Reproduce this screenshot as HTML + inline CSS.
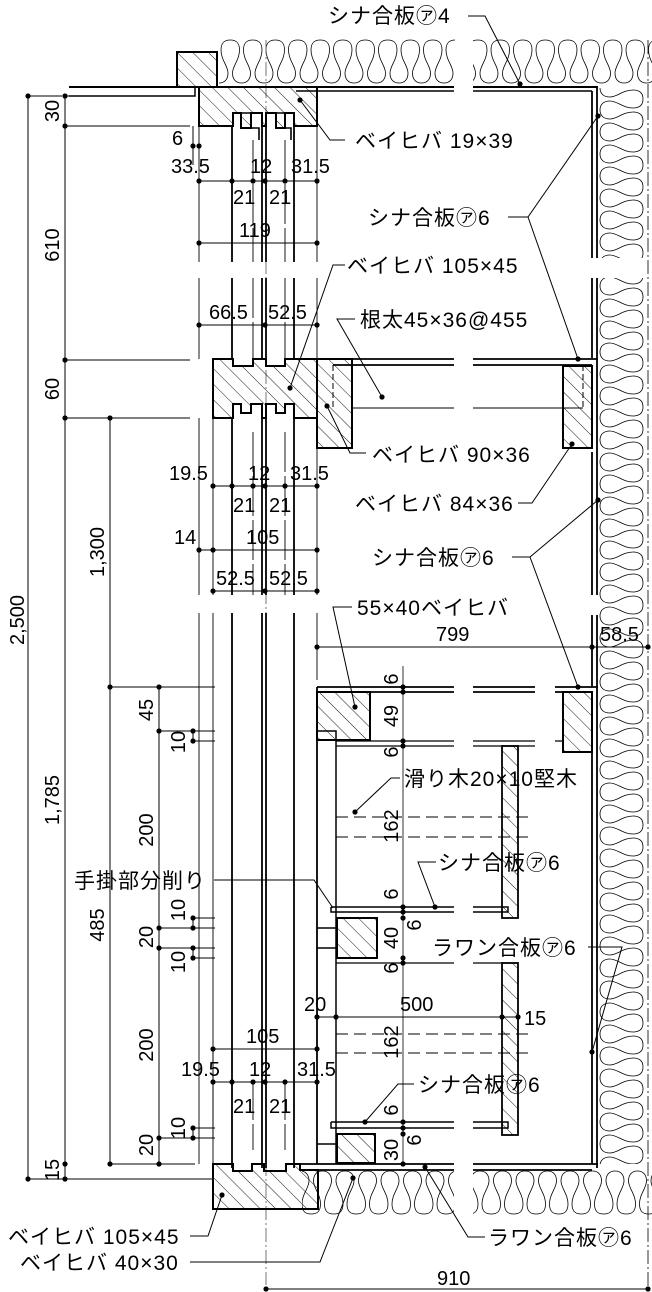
<!DOCTYPE html>
<html><head><meta charset="utf-8"><style>
html,body{margin:0;padding:0;background:#fff}
svg{display:block}
text{font-family:"Liberation Sans","Noto Sans CJK JP",sans-serif;fill:#000}
.l{font-size:21px;letter-spacing:1px}
.d{font-size:20px}
.r text{text-anchor:middle}
</style></head><body>
<svg width="652" height="1292" viewBox="0 0 652 1292" xmlns="http://www.w3.org/2000/svg">
<defs>
<pattern id="h" patternUnits="userSpaceOnUse" width="11" height="11" patternTransform="rotate(-45)">
<line x1="0" y1="0" x2="0" y2="11" stroke="#000" stroke-width="0.9"/>
</pattern>
<pattern id="iv" patternUnits="userSpaceOnUse" width="22.5" height="46" x="219" y="38">
<path d="M0 45 C6 45 9 41 9 35 C9 28 2 22 2 12 C2 4 6 2 11.25 2 C16.5 2 20.5 4 20.5 12 C20.5 22 13.5 28 13.5 35 C13.5 41 16.5 45 22.5 45" fill="none" stroke="#000" stroke-width="0.8"/>
</pattern>
<pattern id="ib" patternUnits="userSpaceOnUse" width="22.5" height="46" x="300" y="1170">
<path d="M0 1 C6 1 9 5 9 11 C9 18 2 24 2 34 C2 42 6 44 11.25 44 C16.5 44 20.5 42 20.5 34 C20.5 24 13.5 18 13.5 11 C13.5 5 16.5 1 22.5 1" fill="none" stroke="#000" stroke-width="0.8"/>
</pattern>
<pattern id="ir" patternUnits="userSpaceOnUse" width="46" height="22" x="599" y="88">
<path d="M1 0 C1 6 5 9 11 9 C18 9 24 2 34 2 C42 2 44 6 44 11 C44 16 42 20 34 20 C24 20 18 13 11 13 C5 13 1 16 1 22" fill="none" stroke="#000" stroke-width="0.8"/>
</pattern>
</defs>

<rect x="219" y="38" width="236" height="46" fill="url(#iv)"/>
<rect x="473" y="38" width="179" height="46" fill="url(#iv)"/>
<rect x="599" y="88" width="46" height="170" fill="url(#ir)"/>
<rect x="599" y="278" width="46" height="886" fill="url(#ir)"/>
<rect x="302" y="1170" width="152" height="46" fill="url(#ib)"/>
<rect x="473" y="1170" width="179" height="46" fill="url(#ib)"/>
<line x1="648" y1="40" x2="648" y2="1292" stroke="#000" stroke-width="0.8" stroke-dasharray="14 3 2 3"/>
<line x1="266" y1="40" x2="266" y2="1285" stroke="#555" stroke-width="0.8" stroke-dasharray="14 3 2 3"/>

<g fill="none" stroke="#000">
<path d="M69 87H195M200 87H454M473 87H598" stroke-width="2"/>
<path d="M296 91H454M473 91H592" stroke-width="1.5"/>
<path d="M195 87V96H69" stroke-width="1.5"/>
<path d="M592 91V258M597 87V258M592 278V358M597 278V595M592 366V440M592 452V595M592 615V687M597 615V1168" stroke-width="1.8"/>
<path d="M592 752V1164" stroke-width="1.8"/>
</g>

<rect x="177" y="52" width="40" height="35" fill="url(#h)" stroke="#000" stroke-width="2"/>
<path d="M199 87H317V126H294V113H285V128H276V113H266V126H262V113H251V128H241V113H233V126H199Z" fill="url(#h)" stroke="#000" stroke-width="2"/>
<path d="M233 113V126M241 113H251V128H259V140M266 113V126M274 113H285V128H291V140" fill="none" stroke="#000" stroke-width="1.6"/>

<g stroke="#000" fill="none">
<path d="M199 126V262M199 278V359M199 418V595M199 613V1164" stroke-width="0.9"/>
<path d="M213 418V595M213 613V1164" stroke-width="0.9"/>
<path d="M232 126V262M232 278V359M232 418V595M232 613V1168" stroke-width="1.8"/>
<path d="M262 126V262M262 278V359M262 418V595M262 613V1168" stroke-width="1.8"/>
<path d="M266 126V262M266 278V359M266 418V595M266 613V1168" stroke-width="1.8"/>
<path d="M294 126V262M294 278V359M294 418V595M294 613V1168" stroke-width="1.8"/>
<path d="M253 140V262M253 278V359M253 432V595M253 1080V1150" stroke-width="0.9" stroke-dasharray="40 4"/>
<path d="M285 140V262M285 278V359M285 432V595M285 1080V1150" stroke-width="0.9" stroke-dasharray="40 4"/>
<path d="M317 126V262M317 278V359M317 440V595M317 613V680" stroke-width="0.9"/>
</g>

<path d="M213 359H233V366H253V359H266V366H285V359H317V418H294V404H285V413H276V404H266V418H262V404H251V413H241V404H233V418H213Z" fill="url(#h)" stroke="#000" stroke-width="2"/>
<rect x="317" y="359" width="35" height="89" fill="url(#h)" stroke="#000" stroke-width="2"/>
<path d="M333 359H454M473 359H598M333 365H454M473 365H592" stroke="#000" stroke-width="1.8" fill="none"/>
<path d="M352 408H454M473 408H583" stroke="#000" stroke-width="1" fill="none"/>
<path d="M333 365V408M583 365V408" stroke="#000" stroke-width="1" stroke-dasharray="6 3" fill="none"/>
<rect x="563" y="366" width="29" height="82" fill="url(#h)" stroke="#000" stroke-width="2"/>

<g stroke="#000" fill="none">
<path d="M317 687V1164" stroke-width="1.8"/>
<path d="M317 731H336V1164" stroke-width="1.5"/>
<path d="M317 687H454M473 687H535M555 687H598M330 692H454M473 692H535M555 692H592" stroke-width="1.8"/>
<path d="M336 741H454M473 741H535M555 741H563M336 746H454M473 746H535" stroke-width="1.2"/>
<path d="M336 817H533M336 837H533M336 1034H533M336 1053H533" stroke-width="1" stroke-dasharray="12 6"/>
<path d="M331 907H454M473 907H508V912H473M454 912H331V907M331 1122H454M473 1122H508V1128H473M454 1128H331V1122" stroke-width="1.5"/>
<path d="M336 963H454M473 963H502" stroke-width="1.2"/>
<path d="M317 928H336M317 948H336M317 1144H336" stroke-width="1.5"/>
<path d="M300 1164H454M473 1164H598M300 1170H454M473 1170H592" stroke-width="1.8"/>
<path d="M403 666V1164" stroke-width="0.8"/>
</g>
<rect x="317" y="692" width="53" height="48" fill="url(#h)" stroke="#000" stroke-width="2"/>
<rect x="563" y="692" width="29" height="60" fill="url(#h)" stroke="#000" stroke-width="2"/>
<rect x="502" y="746" width="16" height="172" fill="url(#h)" stroke="#000" stroke-width="1.8"/>
<rect x="502" y="963" width="16" height="172" fill="url(#h)" stroke="#000" stroke-width="1.8"/>
<rect x="337" y="918" width="40" height="40" fill="url(#h)" stroke="#000" stroke-width="2"/>
<rect x="337" y="1134" width="38" height="29" fill="url(#h)" stroke="#000" stroke-width="2"/>

<path d="M213 1164H233V1171H252V1164H264V1171H286V1164H300V1170H318V1209H213Z" fill="url(#h)" stroke="#000" stroke-width="2"/>
<path d="M233 1164V1171M252 1164V1171M264 1164V1171M286 1164V1171" stroke="#000" stroke-width="1.5"/>

<g stroke="#000" stroke-width="1" fill="none">
<path d="M28 96V1179M65 96V1179M110 418V1164M159 687V1164"/>
<path d="M28 96H62M65 96H195M65 126H190M65 360H190M65 418H190M110 418H190M110 687H215M159 731H215M193 741H215M110 1164H195M28 1179H213"/>
<path d="M193 918H215M159 928H215M159 948H215M193 958H215M193 1128H215M159 1138H215"/>
<path d="M193 731V741M193 918V928M193 948V958M193 1128V1138"/>
<path d="M199 181H317M199 243H317M199 325H317M213 486H317M199 550H317M213 591H317M213 1049H317M213 1082H317M213 1049V1138"/>
<path d="M193 126V165M317 647H592M592 647H648M317 1017H518M266 1289H648"/>
</g>
<g fill="#000">
<circle cx="28" cy="96" r="2.6"/><circle cx="65" cy="96" r="2.6"/><circle cx="65" cy="126" r="2.6"/><circle cx="65" cy="360" r="2.6"/><circle cx="65" cy="418" r="2.6"/><circle cx="110" cy="418" r="2.6"/><circle cx="110" cy="687" r="2.6"/><circle cx="159" cy="687" r="2.6"/><circle cx="159" cy="731" r="2.6"/><circle cx="193" cy="731" r="2.6"/><circle cx="193" cy="741" r="2.6"/>
<circle cx="193" cy="918" r="2.6"/><circle cx="193" cy="928" r="2.6"/><circle cx="159" cy="928" r="2.6"/><circle cx="159" cy="948" r="2.6"/><circle cx="193" cy="948" r="2.6"/><circle cx="193" cy="958" r="2.6"/>
<circle cx="193" cy="1128" r="2.6"/><circle cx="193" cy="1138" r="2.6"/><circle cx="159" cy="1138" r="2.6"/><circle cx="159" cy="1164" r="2.6"/><circle cx="110" cy="1164" r="2.6"/><circle cx="65" cy="1164" r="2.6"/><circle cx="65" cy="1179" r="2.6"/><circle cx="28" cy="1179" r="2.6"/>
<circle cx="193" cy="146" r="2.6"/><circle cx="199" cy="146" r="2.6"/>
<circle cx="199" cy="181" r="2.6"/><circle cx="232" cy="181" r="2.6"/><circle cx="253" cy="181" r="2.6"/><circle cx="265" cy="181" r="2.6"/><circle cx="285" cy="181" r="2.6"/><circle cx="317" cy="181" r="2.6"/>
<circle cx="199" cy="243" r="2.6"/><circle cx="317" cy="243" r="2.6"/><circle cx="199" cy="325" r="2.6"/><circle cx="265" cy="325" r="2.6"/><circle cx="317" cy="325" r="2.6"/>
<circle cx="213" cy="486" r="2.6"/><circle cx="232" cy="486" r="2.6"/><circle cx="253" cy="486" r="2.6"/><circle cx="265" cy="486" r="2.6"/><circle cx="285" cy="486" r="2.6"/><circle cx="317" cy="486" r="2.6"/>
<circle cx="199" cy="550" r="2.6"/><circle cx="213" cy="550" r="2.6"/><circle cx="317" cy="550" r="2.6"/><circle cx="213" cy="591" r="2.6"/><circle cx="265" cy="591" r="2.6"/><circle cx="317" cy="591" r="2.6"/>
<circle cx="317" cy="647" r="2.6"/><circle cx="592" cy="647" r="2.6"/><circle cx="648" cy="647" r="2.6"/>
<circle cx="403" cy="687" r="2.6"/><circle cx="403" cy="692" r="2.6"/><circle cx="403" cy="741" r="2.6"/><circle cx="403" cy="746" r="2.6"/><circle cx="403" cy="907" r="2.6"/><circle cx="403" cy="912" r="2.6"/><circle cx="403" cy="918" r="2.6"/><circle cx="403" cy="958" r="2.6"/><circle cx="403" cy="963" r="2.6"/>
<circle cx="403" cy="1122" r="2.6"/><circle cx="403" cy="1128" r="2.6"/><circle cx="403" cy="1134" r="2.6"/><circle cx="403" cy="1164" r="2.6"/>
<circle cx="317" cy="1017" r="2.6"/><circle cx="336" cy="1017" r="2.6"/><circle cx="502" cy="1017" r="2.6"/><circle cx="518" cy="1017" r="2.6"/>
<circle cx="213" cy="1049" r="2.6"/><circle cx="317" cy="1049" r="2.6"/>
<circle cx="213" cy="1082" r="2.6"/><circle cx="232" cy="1082" r="2.6"/><circle cx="253" cy="1082" r="2.6"/><circle cx="265" cy="1082" r="2.6"/><circle cx="285" cy="1082" r="2.6"/><circle cx="317" cy="1082" r="2.6"/>
<circle cx="266" cy="1289" r="2.6"/><circle cx="648" cy="1289" r="2.6"/>
<circle cx="520" cy="84" r="2.6"/><circle cx="300" cy="100" r="2.6"/><circle cx="598" cy="116" r="2.6"/><circle cx="578" cy="359" r="2.6"/><circle cx="290" cy="388" r="2.6"/><circle cx="382" cy="397" r="2.6"/><circle cx="327" cy="406" r="2.6"/><circle cx="572" cy="444" r="2.6"/><circle cx="598" cy="500" r="2.6"/><circle cx="578" cy="687" r="2.6"/><circle cx="355" cy="707" r="2.6"/><circle cx="355" cy="812" r="2.6"/><circle cx="435" cy="907" r="2.6"/><circle cx="365" cy="1122" r="2.6"/><circle cx="592" cy="1052" r="2.6"/><circle cx="222" cy="1195" r="2.6"/><circle cx="353" cy="1178" r="2.6"/><circle cx="425" cy="1167" r="2.6"/>
</g>

<g stroke="#000" stroke-width="1" fill="none">
<path d="M468 16H485L520 84"/>
<path d="M300 100L330 140H345"/>
<path d="M508 217H528L598 116M528 217L578 359"/>
<path d="M345 265H333L290 388"/>
<path d="M355 319H337L382 397"/>
<path d="M327 406L350 453H366"/>
<path d="M518 503H532L572 444"/>
<path d="M512 557H530L598 500M530 557L578 687"/>
<path d="M352 607H333L355 707"/>
<path d="M400 778H391L355 812"/>
<path d="M436 862H418L435 907"/>
<path d="M214 880H314L333 908"/>
<path d="M588 947H622L592 1052"/>
<path d="M414 1084H398L365 1122"/>
<path d="M190 1236H208L222 1195"/>
<path d="M190 1262H320L353 1178"/>
<path d="M485 1237H468L425 1167"/>
</g>

<g class="l">
<text x="328" y="23">シナ合板㋐4</text>
<text x="355" y="148">ベイヒバ 19×39</text>
<text x="368" y="225">シナ合板㋐6</text>
<text x="347" y="273">ベイヒバ 105×45</text>
<text x="360" y="327">根太45×36@455</text>
<text x="372" y="462">ベイヒバ 90×36</text>
<text x="355" y="511">ベイヒバ 84×36</text>
<text x="372" y="565">シナ合板㋐6</text>
<text x="357" y="615">55×40ベイヒバ</text>
<text x="404" y="786">滑り木20×10堅木</text>
<text x="438" y="870">シナ合板㋐6</text>
<text x="74" y="888">手掛部分削り</text>
<text x="432" y="955">ラワン合板㋐6</text>
<text x="418" y="1092">シナ合板㋐6</text>
<text x="8" y="1244">ベイヒバ 105×45</text>
<text x="20" y="1270">ベイヒバ 40×30</text>
<text x="488" y="1245">ラワン合板㋐6</text>
</g>
<g class="d">
<text x="172" y="145">6</text>
<text x="171" y="173">33.5</text>
<text x="250" y="173">12</text>
<text x="291" y="173">31.5</text>
<text x="233" y="204">21</text>
<text x="269" y="204">21</text>
<text x="239" y="237">119</text>
<text x="209" y="319">66.5</text>
<text x="268" y="319">52.5</text>
<text x="169" y="480">19.5</text>
<text x="248" y="480">12</text>
<text x="290" y="480">31.5</text>
<text x="233" y="512">21</text>
<text x="269" y="512">21</text>
<text x="174" y="544">14</text>
<text x="246" y="544">105</text>
<text x="216" y="585">52.5</text>
<text x="269" y="585">52.5</text>
<text x="436" y="641">799</text>
<text x="600" y="641">58.5</text>
<text x="304" y="1011">20</text>
<text x="400" y="1011">500</text>
<text x="524" y="1025">15</text>
<text x="246" y="1043">105</text>
<text x="181" y="1076">19.5</text>
<text x="249" y="1076">12</text>
<text x="297" y="1076">31.5</text>
<text x="233" y="1113">21</text>
<text x="269" y="1113">21</text>
<text x="437" y="1285">910</text>
</g>
<g class="d r">
<text transform="translate(24,620) rotate(-90)">2,500</text>
<text transform="translate(59,111) rotate(-90)">30</text>
<text transform="translate(59,245) rotate(-90)">610</text>
<text transform="translate(59,389) rotate(-90)">60</text>
<text transform="translate(59,800) rotate(-90)">1,785</text>
<text transform="translate(59,1170) rotate(-90)">15</text>
<text transform="translate(104,552) rotate(-90)">1,300</text>
<text transform="translate(104,925) rotate(-90)">485</text>
<text transform="translate(153,710) rotate(-90)">45</text>
<text transform="translate(185,742) rotate(-90)">10</text>
<text transform="translate(153,830) rotate(-90)">200</text>
<text transform="translate(185,910) rotate(-90)">10</text>
<text transform="translate(153,937) rotate(-90)">20</text>
<text transform="translate(185,962) rotate(-90)">10</text>
<text transform="translate(153,1045) rotate(-90)">200</text>
<text transform="translate(185,1128) rotate(-90)">10</text>
<text transform="translate(153,1145) rotate(-90)">20</text>
<text transform="translate(398,679) rotate(-90)">6</text>
<text transform="translate(398,716) rotate(-90)">49</text>
<text transform="translate(398,752) rotate(-90)">6</text>
<text transform="translate(398,826) rotate(-90)">162</text>
<text transform="translate(398,894) rotate(-90)">6</text>
<text transform="translate(421,925) rotate(-90)">6</text>
<text transform="translate(398,938) rotate(-90)">40</text>
<text transform="translate(398,968) rotate(-90)">6</text>
<text transform="translate(398,1042) rotate(-90)">162</text>
<text transform="translate(398,1110) rotate(-90)">6</text>
<text transform="translate(421,1140) rotate(-90)">6</text>
<text transform="translate(398,1150) rotate(-90)">30</text>
</g>
</svg>
</body></html>
